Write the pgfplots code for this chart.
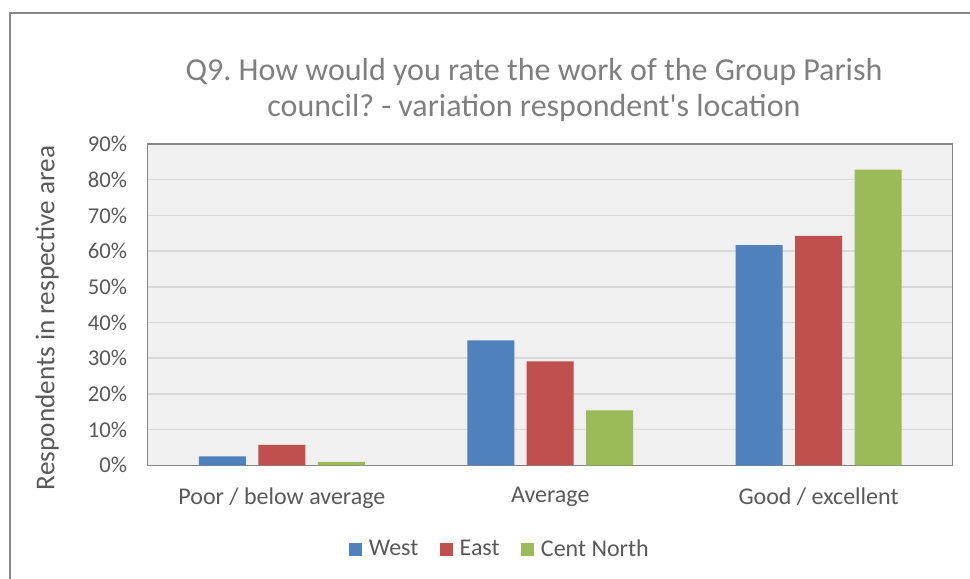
\documentclass[border=0pt]{standalone}
\usepackage{pgfplots}
\pgfplotsset{compat=1.18}
\usepackage{fontspec}
\setmainfont{Carlito}[Ligatures=TeXOff]
\frenchspacing
\definecolor{cWest}{HTML}{4F81BD}
\definecolor{cEast}{HTML}{C0504D}
\definecolor{cCN}{HTML}{9BBB59}
\definecolor{txt}{HTML}{595959}
\definecolor{ttl}{HTML}{7F7F7F}
\definecolor{grd}{HTML}{D9D9D9}
\definecolor{frm}{HTML}{868686}
\definecolor{pbg}{HTML}{F0F0F0}
\begin{document}
\begin{tikzpicture}[x=0.75pt,y=0.75pt]
\useasboundingbox (0,0) rectangle (970,578);
\draw[frm, line width=1.2pt] (10,-5) -- (10,565) -- (980,565);
\node[ttl, font=\fontsize{24}{27}\selectfont, align=center] at (534,578-89.5) {Q9.\ How would you rate the work of the Group Parish\\council? - variation respondent's location};
\node[txt, rotate=90, font=\fontsize{20.4}{24}\selectfont] at (47,578-318) {Respondents in respective area};
\begin{axis}[
  at={(110.8pt,84.5pt)}, anchor=south west,
  width=603.75pt, height=241pt, scale only axis,
  xmin=-0.5, xmax=2.5, ymin=0, ymax=90,
  axis background/.style={fill=pbg},
  axis line style={frm, line width=1.1pt},
  xtick={0,1,2}, xticklabels={Poor / below average, Average, Good / excellent},
  ytick={0,10,...,90},
  yticklabel={\pgfmathprintnumber{\tick}\%},
  /pgf/number format/assume math mode=true,
  major tick length=0pt,
  tick label style={txt, font=\fontsize{17}{20}\selectfont},
  xticklabel style={yshift=-13pt, font=\fontsize{18}{22}\selectfont},
  yticklabel style={xshift=-12pt},
  ymajorgrids, grid style={grd, line width=1.1pt},
  ybar, bar width=35.25pt,
  legend style={at={(0.4377,-0.261)}, anchor=center, draw=none, fill=none,
    legend columns=3, font=\fontsize{18}{22}\selectfont, text=txt,
    /tikz/every even column/.append style={column sep=14pt}},
  legend image code/.code={\fill[#1] (0pt,-4.9pt) rectangle (9.8pt,4.9pt); \path (13pt,0pt);},
]
\addplot[fill=cWest, draw=none, bar shift=-44.6pt] coordinates {(0,2.5) (1,35.0) (2,61.7)};
\addplot[fill=cEast, draw=none, bar shift=0pt] coordinates {(0,5.75) (1,29.1) (2,64.3)};
\addplot[fill=cCN, draw=none, bar shift=44.6pt] coordinates {(0,1.0) (1,15.4) (2,82.8)};
\legend{West, East, Cent North}
\end{axis}
\end{tikzpicture}
\end{document}
